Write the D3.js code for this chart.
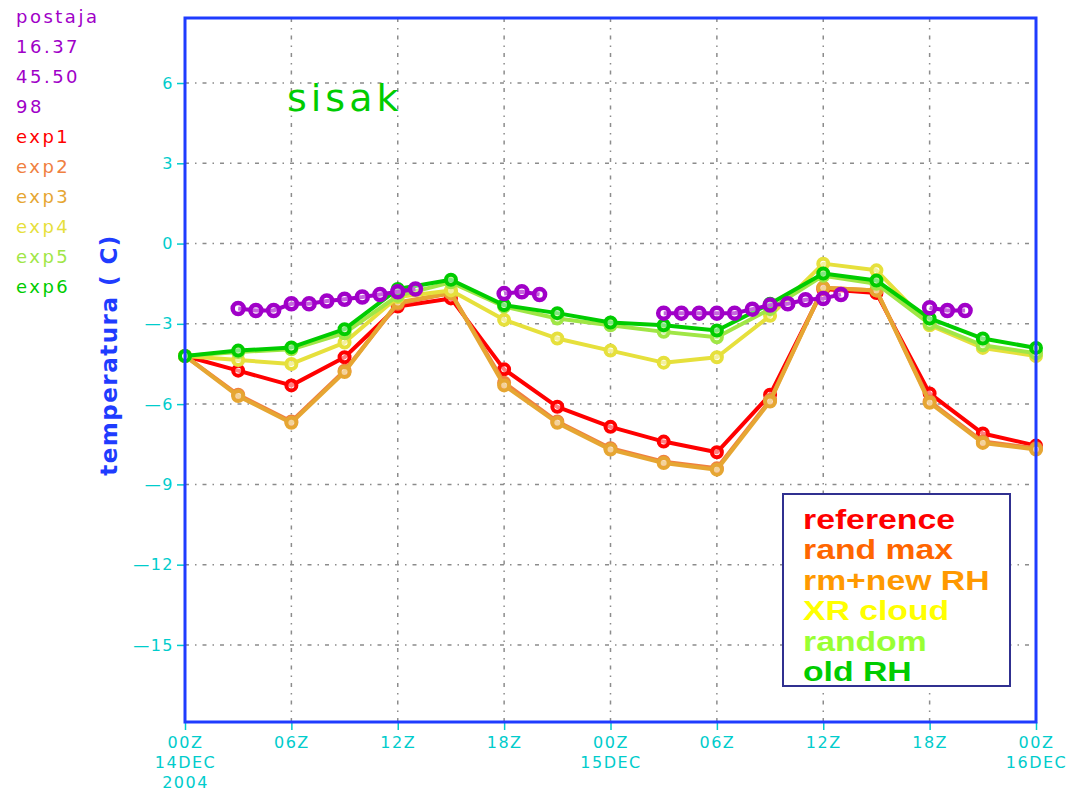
<!DOCTYPE html>
<html>
<head>
<meta charset="utf-8">
<script src="https://cdn.jsdelivr.net/npm/d3@7"></script>
<style>
  body { margin: 0; background: #fff; }
  svg { display: block; }
</style>
</head>
<body>
<svg id="container"></svg>
<script>
// forecast hours since 00Z 14DEC2004
const hours = [0, 3, 6, 9, 12, 15, 18, 21, 24, 27, 30, 33, 36, 39, 42, 45, 48];

const exp1 = [-4.2, -4.75, -5.3, -4.25, -2.35, -2.05, -4.7, -6.1, -6.85, -7.4, -7.8, -5.65, -1.7, -1.85, -5.6, -7.1, -7.55];
const exp2 = [-4.2, -5.65, -6.65, -4.75, -2.25, -1.85, -5.2, -6.65, -7.65, -8.15, -8.4, -5.85, -1.65, -1.75, -5.9, -7.4, -7.65];
const exp3 = [-4.2, -5.7, -6.7, -4.8, -2.2, -1.85, -5.3, -6.7, -7.7, -8.2, -8.45, -5.9, -1.65, -1.75, -5.95, -7.45, -7.7];
const exp4 = [-4.2, -4.35, -4.5, -3.7, -2.0, -1.75, -2.85, -3.55, -4.0, -4.45, -4.25, -2.7, -0.75, -1.0, -3.05, -3.9, -4.2];
const exp5 = [-4.2, -4.05, -3.95, -3.35, -1.95, -1.45, -2.35, -2.8, -3.05, -3.3, -3.5, -2.45, -1.2, -1.5, -3.0, -3.8, -4.1];
const exp6 = [-4.2, -4.0, -3.88, -3.2, -1.7, -1.35, -2.3, -2.6, -2.95, -3.05, -3.25, -2.25, -1.12, -1.38, -2.8, -3.55, -3.9];

// station observations (postaja), hourly with gaps
const obsHours = [3, 4, 5, 6, 7, 8, 9, 10, 11, 12, 13, 18, 19, 20, 27, 28, 29, 30, 31, 32, 33, 34, 35, 36, 37, 42, 43, 44];
const obsTemp = [-2.43, -2.5, -2.5, -2.25, -2.25, -2.15, -2.08, -2.0, -1.9, -1.8, -1.7, -1.87, -1.8, -1.9, -2.6, -2.6, -2.6, -2.6, -2.6, -2.45, -2.3, -2.25, -2.1, -2.05, -1.9, -2.4, -2.5, -2.5];

const expNames = ['exp1', 'exp2', 'exp3', 'exp4', 'exp5', 'exp6'];
const expColors = ['#ff0000', '#f08040', '#e6a632', '#e6e03c', '#a0e646', '#00cc00'];
const legendNames = ['reference', 'rand max', 'rm+new RH', 'XR cloud', 'random', 'old RH'];
const legendColors = ['#ff0000', '#ff6600', '#ff9900', '#ffff00', '#99ff33', '#00cc00'];
const infoLines = ['postaja', '16.37', '45.50', '98'];

const yTicks = [6, 3, 0, -3, -6, -9, -12, -15];
const xTickHours = [0, 6, 12, 18, 24, 30, 36, 42, 48];
const xTickLabels = [['00Z', '14DEC', '2004'], ['06Z'], ['12Z'], ['18Z'], ['00Z', '15DEC'], ['06Z'], ['12Z'], ['18Z'], ['00Z', '16DEC']];

const width = 1079;
const height = 792;
const plotL = 185, plotR = 1036, plotT = 18, plotB = 722;

const svg = d3.select('#container')
    .attr('width', width)
    .attr('height', height);

const x = d3.scaleLinear().domain([0, 48]).range([plotL, plotR]);
const y = d3.scaleLinear().domain([-17.88, 8.43]).range([plotB, plotT]);

const cyan = '#00cccc';
const font = 'DejaVu Sans, sans-serif';

// grid
svg.append('g')
    .selectAll('line')
    .data(yTicks)
    .enter()
    .append('line')
    .attr('x1', plotL).attr('x2', plotR)
    .attr('y1', d => y(d)).attr('y2', d => y(d))
    .attr('stroke', '#8c8c8c')
    .attr('stroke-width', 1.5)
    .attr('stroke-dasharray', '4,6,1.5,6');

svg.append('g')
    .selectAll('line')
    .data(xTickHours.slice(1, -1))
    .enter()
    .append('line')
    .attr('x1', d => x(d)).attr('x2', d => x(d))
    .attr('y1', plotT).attr('y2', plotB)
    .attr('stroke', '#8c8c8c')
    .attr('stroke-width', 1.5)
    .attr('stroke-dasharray', '4,6,1.5,6');

// axes (ticks + labels)
const yAxis = svg.append('g')
    .attr('transform', `translate(${plotL},0)`)
    .call(d3.axisLeft(y).tickValues(yTicks).tickSize(8).tickPadding(3)
        .tickFormat(d => d < 0 ? '\u2014' + Math.abs(d) : d));
yAxis.select('.domain').remove();
yAxis.selectAll('line').attr('stroke', cyan).attr('stroke-width', 1.5);
yAxis.selectAll('text')
    .attr('fill', cyan)
    .attr('font-family', font)
    .attr('font-size', 16)
    .attr('letter-spacing', 1.5);

const xAxis = svg.append('g')
    .attr('transform', `translate(0,${plotB})`)
    .call(d3.axisBottom(x).tickValues(xTickHours).tickSize(8).tickFormat(''));
xAxis.select('.domain').remove();
xAxis.selectAll('line').attr('stroke', cyan).attr('stroke-width', 1.5);

xAxis.selectAll('.tick')
    .each(function(d, i) {
        const t = d3.select(this).append('text')
            .attr('fill', cyan)
            .attr('font-family', font)
            .attr('font-size', 16)
            .attr('letter-spacing', 1.5)
            .attr('text-anchor', 'middle');
        xTickLabels[i].forEach((s, j) => {
            t.append('tspan').attr('x', 0).attr('y', 26 + j * 20).text(s);
        });
    });

// series
const line = d3.line().x(d => x(d[0])).y(d => y(d[1]));
const series = [exp1, exp2, exp3, exp4, exp5, exp6];

series.forEach(function(vals, i) {
    const pts = hours.map((h, k) => [h, vals[k]]);
    svg.append('path')
        .attr('d', line(pts))
        .attr('fill', 'none')
        .attr('stroke', expColors[i])
        .attr('stroke-width', 4)
        .attr('stroke-linejoin', 'round');
    svg.append('g')
        .selectAll('circle')
        .data(pts)
        .enter()
        .append('circle')
        .attr('cx', d => x(d[0]))
        .attr('cy', d => y(d[1]))
        .attr('r', 5)
        .attr('fill', '#fff')
        .attr('fill-opacity', 0.5)
        .attr('stroke', expColors[i])
        .attr('stroke-width', 4);
});

// observations, broken where hours are missing
const obsPts = obsHours.map((h, k) => [h, obsTemp[k]]);
const segs = [];
obsPts.forEach(function(p, k) {
    if (k === 0 || p[0] - obsPts[k - 1][0] > 1) segs.push([]);
    segs[segs.length - 1].push(p);
});
segs.forEach(function(seg) {
    svg.append('path')
        .attr('d', line(seg))
        .attr('fill', 'none')
        .attr('stroke', '#a000c8')
        .attr('stroke-width', 4);
});
svg.append('g')
    .selectAll('circle')
    .data(obsPts)
    .enter()
    .append('circle')
    .attr('cx', d => x(d[0]))
    .attr('cy', d => y(d[1]))
    .attr('r', 5.5)
    .attr('fill', '#fff')
    .attr('fill-opacity', 0.4)
    .attr('stroke', '#a000c8')
    .attr('stroke-width', 4.5);

// frame
svg.append('rect')
    .attr('x', plotL).attr('y', plotT)
    .attr('width', plotR - plotL).attr('height', plotB - plotT)
    .attr('fill', 'none')
    .attr('stroke', '#1f3cff')
    .attr('stroke-width', 3);

// y title
svg.append('text')
    .attr('transform', 'translate(117,355) rotate(-90)')
    .attr('text-anchor', 'middle')
    .attr('fill', '#1f3cff')
    .attr('font-family', font)
    .attr('font-weight', 'bold')
    .attr('font-size', 23)
    .attr('letter-spacing', 1.5)
    .text('temperatura ( C)');

// station name
svg.append('text')
    .attr('x', 287).attr('y', 111)
    .attr('fill', '#00cc00')
    .attr('font-family', font)
    .attr('font-size', 38)
    .attr('letter-spacing', 4)
    .text('sisak');

// top-left info
const info = infoLines.map(s => ({ text: s, color: '#a000c8' }))
    .concat(expNames.map((s, i) => ({ text: s, color: expColors[i] })));
svg.append('g')
    .selectAll('text')
    .data(info)
    .enter()
    .append('text')
    .attr('x', 16)
    .attr('y', (d, i) => 23 + i * 30)
    .attr('fill', d => d.color)
    .attr('font-family', font)
    .attr('font-size', 18)
    .attr('letter-spacing', 2.5)
    .text(d => d.text);

// legend box
svg.append('rect')
    .attr('x', 783).attr('y', 494)
    .attr('width', 227).attr('height', 192)
    .attr('fill', '#fff')
    .attr('stroke', '#303090')
    .attr('stroke-width', 2);

svg.append('g')
    .attr('transform', 'translate(803,0) scale(1.25,1)')
    .selectAll('text')
    .data(legendNames)
    .enter()
    .append('text')
    .attr('x', 0)
    .attr('y', (d, i) => 529 + i * 30.5)
    .attr('fill', (d, i) => legendColors[i])
    .attr('font-family', 'Liberation Sans, Arial, sans-serif')
    .attr('font-weight', 'bold')
    .attr('font-size', 27)
    .text(d => d);
</script>
</body>
</html>
